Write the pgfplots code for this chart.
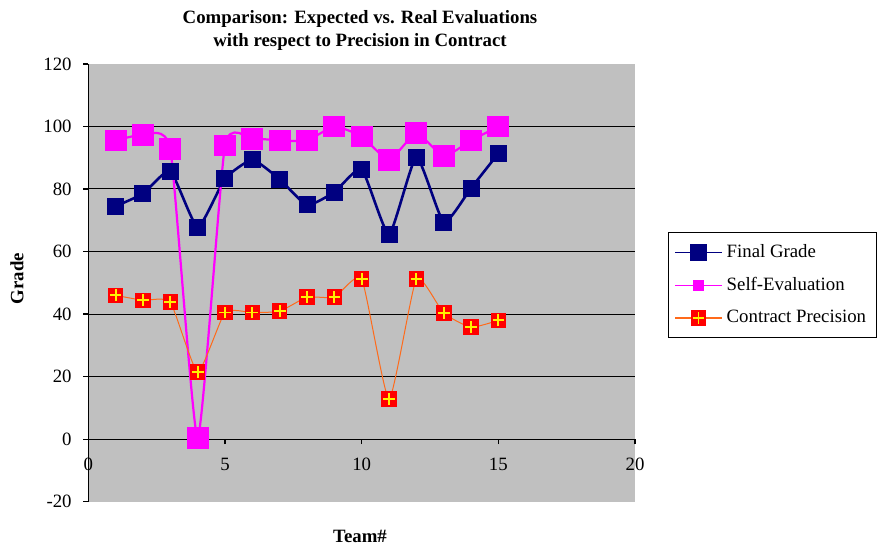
\documentclass[border=0pt]{standalone}
\usepackage{fontspec}
\setmainfont{Liberation Serif}
\usepackage{pgfplots}
\pgfplotsset{compat=1.18}
\definecolor{plotgray}{HTML}{C0C0C0}
\definecolor{fgnavy}{HTML}{000080}
\definecolor{semag}{HTML}{FF00FF}
\definecolor{cporange}{HTML}{FF6A1A}
\pgfdeclareplotmark{redplus}{%
  \pgfpathrectangle{\pgfpoint{-\pgfplotmarksize}{-\pgfplotmarksize}}{\pgfpoint{2\pgfplotmarksize}{2\pgfplotmarksize}}%
  \pgfsetfillcolor{red}\pgfusepathqfill
  \pgfsetstrokecolor{yellow}\pgfsetlinewidth{0.9pt}%
  \pgfpathmoveto{\pgfpoint{-0.75\pgfplotmarksize}{0pt}}\pgfpathlineto{\pgfpoint{0.75\pgfplotmarksize}{0pt}}%
  \pgfpathmoveto{\pgfpoint{0pt}{-0.75\pgfplotmarksize}}\pgfpathlineto{\pgfpoint{0pt}{0.75\pgfplotmarksize}}%
  \pgfusepathqstroke}
\begin{document}
\fontsize{9.4}{11}\selectfont
\begin{tikzpicture}[x=1pt,y=1pt]
\path[use as bounding box] (0,0) rectangle (440,274);
\begin{axis}[
  at={(44.15pt,23.15pt)}, anchor=south west,
  scale only axis, width=273.4pt, height=218.9pt,
  xmin=0, xmax=20, ymin=-20, ymax=120,
  axis y line=left, axis x line=middle,
  axis line style={-, black, line width=0.6pt},
  axis background/.style={fill=plotgray},
  hide obscured x ticks=false, hide obscured y ticks=false,
  xtick={0,5,...,20}, ytick={-20,0,...,120},
  tick align=outside, major tick length=2.5pt,
  tick style={black, line width=0.6pt},
  extra y ticks={20,40,60,80,100}, extra y tick labels={},
  extra y tick style={grid=major, major grid style={black, line width=0.5pt}, major tick length=0pt},
  /pgf/number format/assume math mode=true,
  ticklabel style={font=\fontsize{9.4}{11}\selectfont},
  xticklabel style={yshift=-3.5pt},
  yticklabel style={xshift=-2.5pt},
  clip=false,
  legend style={at={(1.06,0.616)}, anchor=north west, draw=black, fill=white,
    font=\fontsize{9.4}{11}\selectfont, row sep=4.5pt, inner xsep=3pt, inner ysep=4pt,
    cells={anchor=west}},
  legend image code/.code={\draw[mark repeat=2,mark phase=2] plot coordinates {(0pt,0pt)(11.7pt,0pt)(23.5pt,0pt)};},
]
\addplot[fgnavy, line width=1.3pt, smooth, tension=0.3, mark=square*, mark size=4pt, mark options={fill=fgnavy, draw=fgnavy, line width=0pt},
  legend image post style={line width=0.6pt}]
  coordinates {(1,74.5)(2,78.5)(3,85.7)(4,67.8)(5,83.3)(6,89.3)(7,83.1)(8,74.9)(9,79.0)(10,86.3)(11,65.5)(12,90.2)(13,69.4)(14,80.3)(15,91.4)};
\addlegendentry{Final Grade}
\addplot[semag, line width=1.1pt, smooth, tension=0.3, mark=square*, mark size=5.2pt, mark options={fill=semag, draw=semag, line width=0pt},
  legend image post style={mark size=2.6pt, line width=0.6pt}]
  coordinates {(1,95.5)(2,97.3)(3,92.7)(4,0.4)(5,93.9)(6,96.1)(7,95.5)(8,95.5)(9,100)(10,96.8)(11,89.3)(12,97.8)(13,90.5)(14,95.5)(15,100)};
\addlegendentry{Self-Evaluation}
\addplot[cporange, line width=0.5pt, smooth, tension=0.3, mark=redplus, mark size=3.9pt,
  legend image post style={line width=0.7pt}]
  coordinates {(1,46.0)(2,44.4)(3,43.8)(4,21.5)(5,40.5)(6,40.5)(7,40.9)(8,45.4)(9,45.4)(10,51.2)(11,12.8)(12,51.2)(13,40.3)(14,35.8)(15,38.0)};
\addlegendentry{Contract Precision}
\end{axis}
\node[align=center, font=\bfseries\fontsize{9.4}{11.5}\selectfont] at (180,258.8) {Comparison: Expected vs. Real Evaluations\\with respect to Precision in Contract};
\node[rotate=90, font=\bfseries] at (8.5,134.75) {Grade};
\node[font=\bfseries] at (180,6) {Team\#};
\end{tikzpicture}
\end{document}
